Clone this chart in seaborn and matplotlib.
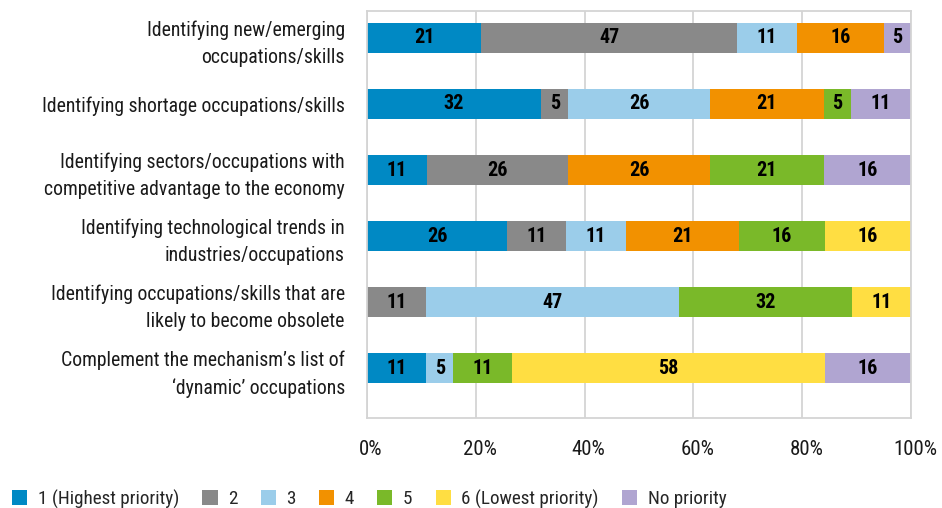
import numpy as np
import pandas as pd
import seaborn as sns
import matplotlib.pyplot as plt
import matplotlib.transforms as mtransforms
from matplotlib.patches import Patch

# Survey shares (%) per task and priority level, as printed on the bars
categories = [
    "Identifying new/emerging\noccupations/skills",
    "Identifying shortage occupations/skills",
    "Identifying sectors/occupations with\ncompetitive advantage to the economy",
    "Identifying technological trends in\nindustries/occupations",
    "Identifying occupations/skills that are\nlikely to become obsolete",
    "Complement the mechanism\u2019s list of\n\u2018dynamic\u2019 occupations",
]
series_names = ["1 (Highest priority)", "2", "3", "4", "5",
                "6 (Lowest priority)", "No priority"]
p1 = [21, 32, 11, 26, 0, 11]
p2 = [47, 5, 26, 11, 11, 0]
p3 = [11, 26, 0, 11, 47, 5]
p4 = [16, 21, 26, 21, 0, 0]
p5 = [0, 5, 21, 16, 32, 11]
p6 = [0, 0, 0, 16, 11, 58]
p_none = [5, 11, 16, 0, 0, 16]
colors = ["#0089c4", "#898989", "#9bcdea", "#f29100", "#7ab929",
          "#ffde42", "#b0a5d1"]
tick_vals = [0, 20, 40, 60, 80, 100]

sns.set_theme(style="white")
plt.rcParams["font.family"] = ["Roboto Condensed", "DejaVu Sans"]
plt.rcParams["font.stretch"] = "condensed"

values = np.array([p1, p2, p3, p4, p5, p6, p_none], dtype=float)
shares = values / values.sum(axis=0) * 100  # bars are scaled to 100%
cum = shares.cumsum(axis=0)

fig, ax = plt.subplots(figsize=(9.42, 5.08), dpi=100)
fig.subplots_adjust(left=367 / 942, right=911 / 942,
                    top=1 - 11 / 508, bottom=1 - 418 / 508)

# stacked look: draw cumulative totals from the right end back to the left
for i in reversed(range(len(series_names))):
    df = pd.DataFrame({"category": categories, "cum": cum[i]})
    sns.barplot(data=df, x="cum", y="category", orient="y", color=colors[i],
                saturation=1, width=0.463, linewidth=0, ax=ax)

for i in range(len(series_names)):
    for j in range(len(categories)):
        if values[i, j] > 0:
            ax.text(cum[i, j] - shares[i, j] / 2, j, f"{values[i, j]:.0f}",
                    ha="center", va="center", fontsize=14.5,
                    fontweight="bold", color="black")

ax.set_xlim(0, 100)
ax.set_ylim(5.754, -0.407)
ax.set_xticks(tick_vals)
ax.set_xticklabels([f"{v}%" for v in tick_vals])
ax.set_xlabel("")
ax.set_ylabel("")
ax.grid(axis="x", color="#d4d4d4", linewidth=1.3)
ax.set_axisbelow(True)
for sp in ax.spines.values():
    sp.set_color("#d4d4d4")
    sp.set_linewidth(1.3)
ax.tick_params(axis="x", length=0, pad=16, labelsize=15, labelcolor="#1a1a1a")
ax.tick_params(axis="y", length=0, pad=16, labelsize=14.2, labelcolor="#1a1a1a")
for lab in ax.get_yticklabels():
    lab.set_linespacing(1.5)
shift = mtransforms.ScaledTranslation(4 / 100, 0, fig.dpi_scale_trans)
for lab in ax.get_xticklabels():
    lab.set_transform(lab.get_transform() + shift)

handles = [Patch(facecolor=c, edgecolor="none", label=n)
           for c, n in zip(colors, series_names)]
fig.legend(handles=handles, loc="center left",
           bbox_to_anchor=(12 / 942, 9 / 508), ncol=7, frameon=False,
           fontsize=13.8, handlelength=0.8, handleheight=0.8,
           handletextpad=0.55, columnspacing=1.2, borderpad=0,
           borderaxespad=0)

fig.savefig("out.png", dpi=100)
